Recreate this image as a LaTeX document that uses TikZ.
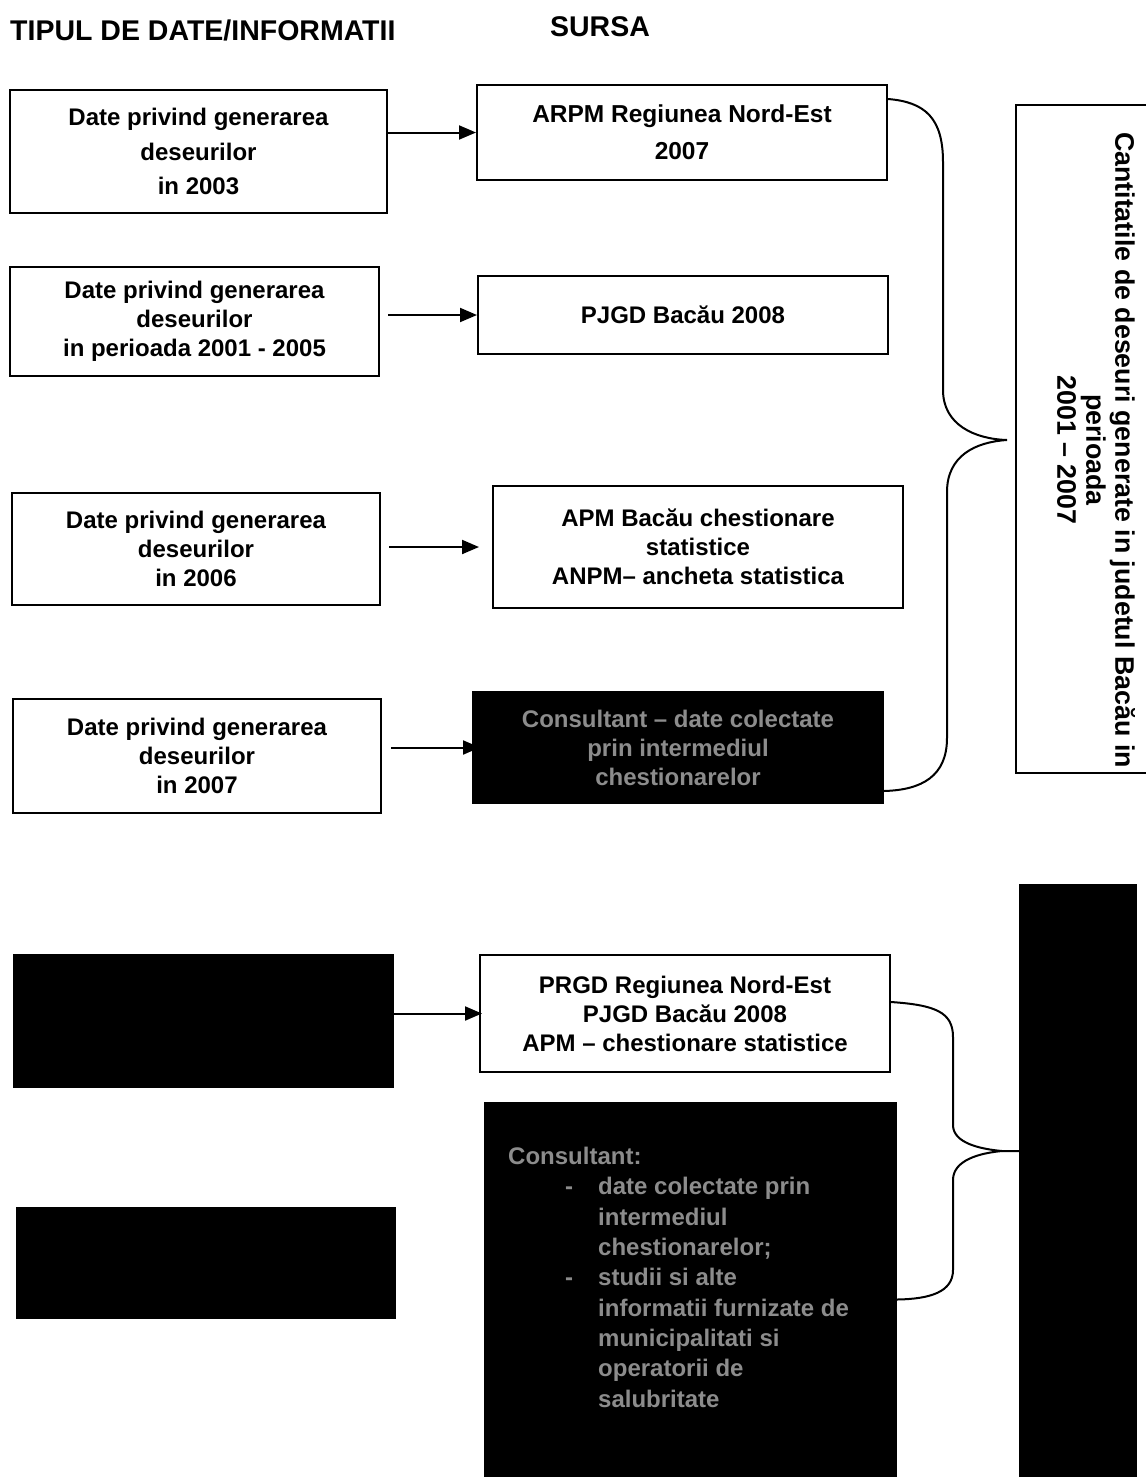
\documentclass[tikz,border=0pt]{standalone}
\usepackage{fontspec}
\setmainfont{Liberation Sans}
\usetikzlibrary{arrows.meta,calc}
\begin{document}
\begin{tikzpicture}[x=1pt,y=-1pt,
  box/.style={draw=black,line width=2pt,inner sep=0pt,align=center,
    font=\bfseries\fontsize{24}{29}\selectfont},
  darkbox/.style={box,fill=black,text=black!45},
  conn/.style={line width=2pt,-{Triangle[length=17pt,width=14pt]}},
  brace/.style={line width=2pt},
  hdr/.style={font=\bfseries\fontsize{28.5}{33}\selectfont,inner sep=0pt}]
\useasboundingbox (0,0) rectangle (1146,1484);
\clip (0,0) rectangle (1146,1484);
% headers
\node[hdr,anchor=west] (h1) at (10,30) {TIPUL DE DATE/INFORMATII};
\node[hdr] (h2) at (600,27) {SURSA};
% left column
\node[box,minimum width=377pt,minimum height=123pt,font=\bfseries\fontsize{24}{34.5}\selectfont] (l1) at (198.5,151.5) {Date privind generarea\\deseurilor\\in 2003};
\node[box,minimum width=369pt,minimum height=109pt] (l2) at (194.5,321.5) {Date privind generarea\\deseurilor\\in perioada 2001 - 2005};
\node[box,minimum width=368pt,minimum height=112pt] (l3) at (196,549) {Date privind generarea\\deseurilor\\in 2006};
\node[box,minimum width=368pt,minimum height=114pt] (l4) at (197,756) {Date privind generarea\\deseurilor\\in 2007};
\node[darkbox,minimum width=379pt,minimum height=132pt] (l5) at (203.5,1021) {};
\node[darkbox,minimum width=378pt,minimum height=110pt] (l6) at (206,1263) {};
% source column
\node[box,minimum width=410pt,minimum height=95pt,font=\bfseries\fontsize{24.5}{37}\selectfont] (r1) at (682,132.5) {ARPM Regiunea Nord-Est\\2007};
\node[box,minimum width=410pt,minimum height=78pt] (r2) at (683,315) {PJGD Bacău 2008};
\node[box,minimum width=410pt,minimum height=122pt] (r3) at (698,547) {APM Bacău chestionare\\statistice\\ANPM– ancheta statistica};
\node[darkbox,minimum width=410pt,minimum height=111pt] (r4) at (678,747.5) {Consultant – date colectate\\prin intermediul\\chestionarelor};
\node[box,minimum width=410pt,minimum height=117pt] (r5) at (685,1013.5) {PRGD Regiunea Nord-Est\\PJGD Bacău 2008\\APM – chestionare statistice};
\node[darkbox,minimum width=411pt,minimum height=373pt] (r6) at (690.5,1289.5) {};
\node[anchor=north west,inner sep=0pt,align=left,text=black!45,
  font=\bfseries\fontsize{24}{30.3}\selectfont] (r6t) at (508,1147)
  {Consultant:\\
   \hspace*{57pt}\makebox[33pt][l]{-}date colectate prin\\
   \hspace*{90pt}intermediul\\
   \hspace*{90pt}chestionarelor;\\
   \hspace*{57pt}\makebox[33pt][l]{-}studii si alte\\
   \hspace*{90pt}informatii furnizate de\\
   \hspace*{90pt}municipalitati si\\
   \hspace*{90pt}operatorii de\\
   \hspace*{90pt}salubritate};
% result boxes
\node[draw=black,line width=2pt,minimum width=144pt,minimum height=668pt,inner sep=0pt] (f1) at (1088,439) {};
\node[rotate=-90,align=center,inner sep=0pt,font=\bfseries\fontsize{26.8}{29}\selectfont] (f1t) at (1096,450) {Cantitatile de deseuri generate in judetul Bacău in\\perioada\\2001 – 2007};
\node[darkbox,minimum width=116pt,minimum height=591pt] (f2) at (1078,1180.5) {};
% arrows
\draw[conn] (l1.east |- r1.west) -- (r1.west);
\draw[conn,shorten <=8pt] (l2.east |- r2.west) -- (r2.west);
\draw[conn,shorten <=8pt,shorten >=13pt] (l3.east |- r3.west) -- (r3.west);
\draw[conn,shorten <=9pt,shorten >=-8pt] (l4.east |- r4.west) -- (r4.west);
\draw[conn,shorten >=-3pt] (l5.east |- r5.west) -- (r5.west);
% brace 1
\coordinate (b1a) at ($(r1.north east)+(0,15)$);
\coordinate (b1b) at ($(r4.south east)+(0,-13)$);
\coordinate (b1t) at ($(f1.west)+(-8,1)$);
\draw[brace] (b1a) .. controls (925,102) and (943,118) .. (943,162)
  -- (943,390) .. controls (943,425) and (975,439) .. (b1t)
  .. controls (975,442) and (947,456) .. (947,492)
  -- (947,738) .. controls (947,776) and (922,790) .. (b1b);
% brace 2
\coordinate (b2a) at ($(r5.north east)+(0,48)$);
\coordinate (b2b) at ($(r6.east)+(0,10)$);
\coordinate (b2t) at ($(f2.west)+(-17,-29.5)$);
\coordinate (b2e) at (f2.west |- b2t);
\draw[brace] (b2a) .. controls (935,1005) and (953,1012) .. (953,1037)
  -- (953,1125) .. controls (953,1143) and (980,1149) .. (b2t) -- (b2e);
\draw[brace] (b2t) .. controls (980,1153) and (953,1160) .. (953,1180)
  -- (953,1270) .. controls (953,1292) and (930,1299) .. (b2b);
\end{tikzpicture}
\end{document}
